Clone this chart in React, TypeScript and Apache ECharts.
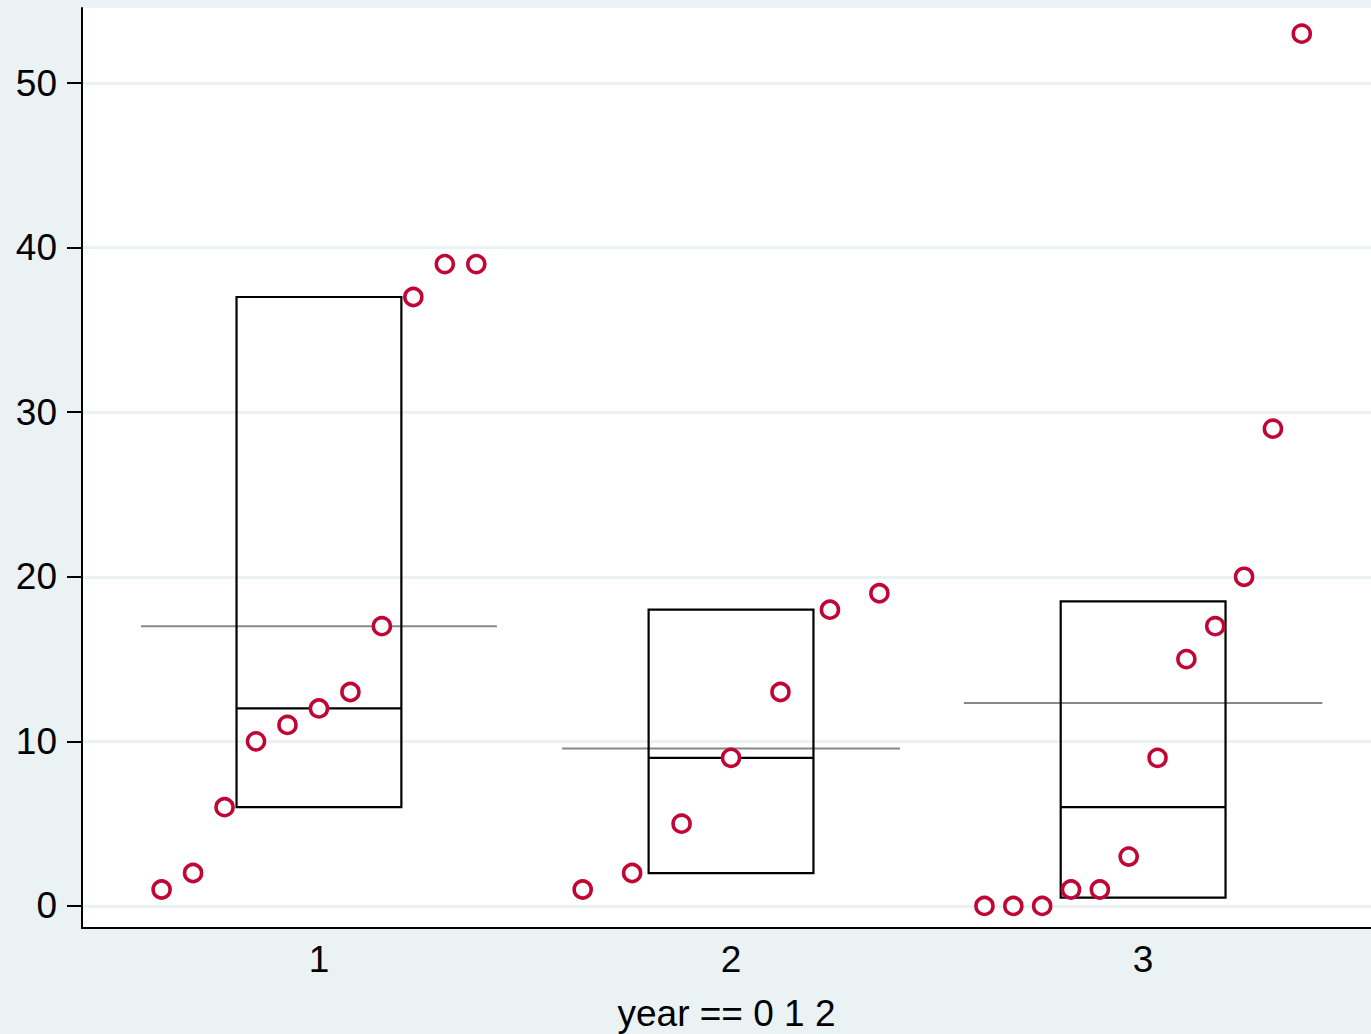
import React, { useEffect, useRef } from "react";
import * as echarts from "echarts";

// ---- data ----
const categories = [1, 2, 3];
const categoryLabels = ["1", "2", "3"];
const group1 = [1, 2, 6, 10, 11, 12, 13, 17, 37, 39, 39];
const group2 = [1, 2, 5, 9, 13, 18, 19];
const group3 = [0, 0, 0, 1, 1, 3, 9, 15, 17, 20, 29, 53];
const lowerQuartiles = [6, 2, 0.5];
const medians = [12, 9, 6];
const upperQuartiles = [37, 18, 18.5];
const means = [17.0, 9.57, 12.33];
const yTicks = [0, 10, 20, 30, 40, 50];
const xTitle = "year == 0 1 2";

const FONT = "'Liberation Sans', Arial, Helvetica, sans-serif";
const RED = "#C10534";

export default function App() {
  const ref = useRef<HTMLDivElement>(null);

  useEffect(() => {
    if (!ref.current) return;
    const chart = echarts.init(ref.current, undefined, { renderer: "svg" });

    const groups = [group1, group2, group3];
    const spread = 0.84;
    const points: number[][] = [];
    const halfWidths: number[] = [];
    groups.forEach((g, gi) => {
      const n = g.length;
      halfWidths.push(((n - 1) / 2) * (spread / n) + 0.05);
      g.forEach((v, i) => {
        const off = (i - (n - 1) / 2) * (spread / n);
        points.push([categories[gi] + off, v]);
      });
    });

    const boxData = categories.map((c, i) => [c, lowerQuartiles[i], medians[i], upperQuartiles[i]]);
    const meanData = categories.map((c, i) => [c, means[i], halfWidths[i]]);

    const option: any = {
      animation: false,
      backgroundColor: "#EAF2F3",
      textStyle: { fontFamily: FONT },
      grid: {
        left: 82,
        right: 0,
        top: 8,
        bottom: 106,
        show: true,
        backgroundColor: "#ffffff",
        borderWidth: 0,
        containLabel: false,
        outerBoundsMode: "none",
      },
      xAxis: {
        type: "value",
        min: 0.425,
        max: 3.553,
        axisLine: { show: true, onZero: false, lineStyle: { color: "#000", width: 2 } },
        axisTick: { show: false },
        axisLabel: {
          customValues: categories,
          formatter: (v: number) => categoryLabels[categories.indexOf(Math.round(v))] ?? "",
          fontSize: 37,
          color: "#000",
          fontFamily: FONT,
          margin: 13,
        },
        splitLine: { show: false },
        name: xTitle,
        nameLocation: "middle",
        nameGap: 67,
        nameTextStyle: { fontSize: 37, color: "#000", fontFamily: FONT },
      },
      yAxis: {
        type: "value",
        min: -1.34,
        max: 54.56,
        axisLine: { show: true, onZero: false, lineStyle: { color: "#000", width: 2 } },
        axisTick: {
          show: true,
          customValues: yTicks,
          length: 15,
          lineStyle: { color: "#000", width: 2 },
        },
        axisLabel: {
          customValues: yTicks,
          fontSize: 37,
          color: "#000",
          fontFamily: FONT,
          margin: 25,
        },
        splitLine: { show: true, lineStyle: { color: "#EAF2F3", width: 3 } },
      },
      series: [
        {
          type: "custom",
          name: "mean",
          data: meanData,
          encode: { x: 0, y: 1 },
          z: 1,
          renderItem: (params: any, api: any) => {
            const x = api.value(0);
            const m = api.value(1);
            const hw = api.value(2);
            const a = api.coord([x - hw, m]);
            const b = api.coord([x + hw, m]);
            return {
              type: "line",
              shape: { x1: a[0], y1: a[1], x2: b[0], y2: b[1] },
              style: { stroke: "#888888", lineWidth: 2 },
            };
          },
        },
        {
          type: "custom",
          name: "box",
          data: boxData,
          encode: { x: 0, y: [1, 2, 3] },
          z: 2,
          renderItem: (params: any, api: any) => {
            const x = api.value(0);
            const q1 = api.value(1);
            const med = api.value(2);
            const q3 = api.value(3);
            const tl = api.coord([x - 0.2, q3]);
            const br = api.coord([x + 0.2, q1]);
            const ml = api.coord([x - 0.2, med]);
            const mr = api.coord([x + 0.2, med]);
            return {
              type: "group",
              children: [
                {
                  type: "rect",
                  shape: { x: tl[0], y: tl[1], width: br[0] - tl[0], height: br[1] - tl[1] },
                  style: { fill: "none", stroke: "#000", lineWidth: 2.2 },
                },
                {
                  type: "line",
                  shape: { x1: ml[0], y1: ml[1], x2: mr[0], y2: mr[1] },
                  style: { stroke: "#000", lineWidth: 2.2 },
                },
              ],
            };
          },
        },
        {
          type: "scatter",
          name: "points",
          data: points,
          z: 3,
          symbol: "circle",
          symbolSize: 17,
          itemStyle: { color: "#ffffff", borderColor: RED, borderWidth: 3.6, opacity: 1 },
        },
      ],
    };

    chart.setOption(option);
    return () => chart.dispose();
  }, []);

  return (
    <div
      ref={ref}
      style={{ position: "fixed", left: 0, top: 0, width: 1371, height: 1034 }}
    />
  );
}
